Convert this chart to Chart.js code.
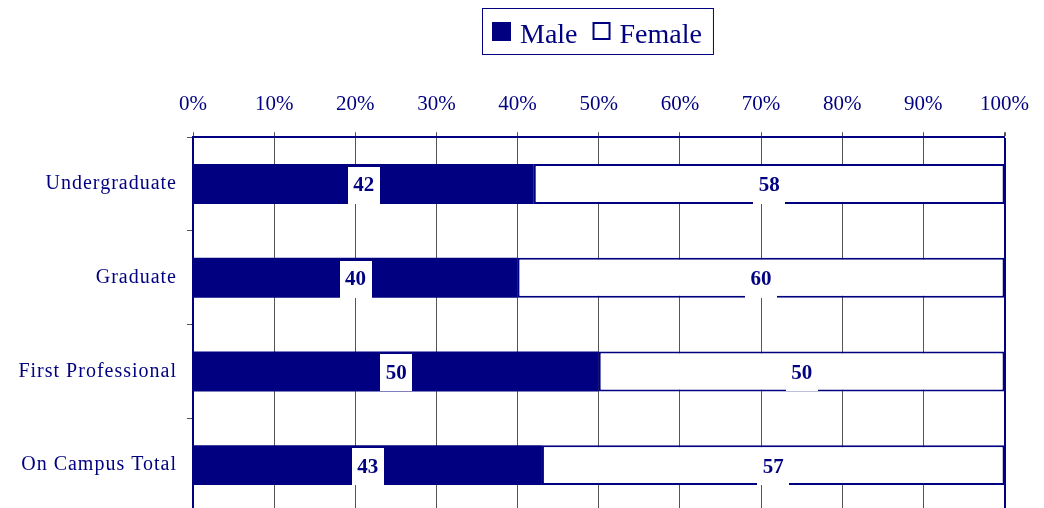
<!DOCTYPE html>
<html>
<head>
<meta charset="utf-8">
<script src="https://cdn.jsdelivr.net/npm/chart.js@4"></script>
<style>
  html, body { margin: 0; padding: 0; background: #fff; overflow: hidden; }
  #wrap { width: 1044px; height: 508px; overflow: hidden; }
</style>
</head>
<body>
<div id="wrap"><canvas id="chart" width="1044" height="520"></canvas></div>
<script>
// Enrollment split by level, percent
const categories = ['Undergraduate', 'Graduate', 'First Professional', 'On Campus Total'];
const maleValues = [42, 40, 50, 43];
const femaleValues = [58, 60, 50, 57];
const seriesNames = ['Male', 'Female'];
const xTicks = [0, 10, 20, 30, 40, 50, 60, 70, 80, 90, 100];

const NAVY = '#000080';
const SERIF = "'Liberation Serif', 'Times New Roman', serif";

// White boxes with the value in the middle of each segment
const valueLabels = {
  id: 'valueLabels',
  afterDatasetsDraw(chart) {
    const ctx = chart.ctx;
    ctx.save();
    ctx.font = 'bold 21px ' + SERIF;
    ctx.textAlign = 'center';
    ctx.textBaseline = 'middle';
    chart.data.datasets.forEach((ds, i) => {
      chart.getDatasetMeta(i).data.forEach((bar, j) => {
        const text = String(ds.data[j]);
        const cx = (bar.x + bar.base) / 2;
        const cy = bar.y + 1;
        const w = ctx.measureText(text).width + 11;
        ctx.fillStyle = '#fff';
        ctx.fillRect(Math.round(cx - w / 2), Math.round(cy - 18), Math.round(w), 37);
        ctx.fillStyle = NAVY;
        ctx.fillText(text, cx, cy + 1);
      });
    });
    ctx.restore();
  }
};

// Category labels in the original are slightly letter-spaced
const spacedYLabels = {
  id: 'spacedYLabels',
  beforeDraw(chart) {
    const scale = chart.scales.y;
    if (!scale || scale._spaced) return;
    const orig = scale.drawLabels.bind(scale);
    scale.drawLabels = function(area) {
      const ctx = chart.ctx;
      ctx.save();
      ctx.letterSpacing = '1px';
      orig(area);
      ctx.restore();
    };
    scale._spaced = true;
  }
};

// Boxed legend like the original
const boxedLegend = {
  id: 'boxedLegend',
  afterDraw(chart) {
    const ctx = chart.ctx;
    const area = chart.chartArea;
    ctx.save();
    ctx.font = '28px ' + SERIF;
    ctx.textBaseline = 'alphabetic';
    const w0 = ctx.measureText(seriesNames[0]).width;
    const w1 = ctx.measureText(seriesNames[1]).width;
    const total = 10 + 19 + 9 + w0 + 15 + 18 + 9 + w1 + 11;
    const left = Math.round((area.left + area.right) / 2 - total / 2) - 1;
    const top = 8, h = 46;
    ctx.strokeStyle = NAVY;
    ctx.lineWidth = 1;
    ctx.strokeRect(left + 0.5, top + 0.5, total, h);
    let x = left + 10;
    ctx.fillStyle = NAVY;
    ctx.fillRect(x, 22, 19, 19);
    x += 19 + 9;
    ctx.fillText(seriesNames[0], x, 43);
    x += w0 + 15;
    ctx.lineWidth = 2;
    ctx.strokeRect(x + 1, 23, 16, 16);
    x += 18 + 9;
    ctx.fillText(seriesNames[1], x, 43);
    ctx.restore();
  }
};

new Chart(document.getElementById('chart'), {
  type: 'bar',
  data: {
    labels: categories,
    datasets: [
      {
        label: seriesNames[0],
        data: maleValues,
        backgroundColor: NAVY,
        borderWidth: 0
      },
      {
        label: seriesNames[1],
        data: femaleValues,
        backgroundColor: '#ffffff',
        borderColor: NAVY,
        borderWidth: 2,
        borderSkipped: false
      }
    ]
  },
  options: {
    indexAxis: 'y',
    responsive: false,
    animation: false,
    layout: { padding: { top: 77, right: 38, bottom: 8, left: 0 } },
    datasets: {
      bar: { categoryPercentage: 1, barPercentage: 40 / 94 }
    },
    plugins: {
      legend: { display: false },
      tooltip: { enabled: false }
    },
    scales: {
      x: {
        position: 'top',
        stacked: true,
        min: 0,
        max: 100,
        afterBuildTicks(scale) {
          scale.ticks = xTicks.map(v => ({ value: v }));
        },
        ticks: {
          color: NAVY,
          padding: 15,
          font: { family: SERIF, size: 21 },
          callback: v => v + '%'
        },
        grid: {
          color: ctx => ctx.tick && ctx.tick.value === 100 ? NAVY : '#555',
          lineWidth: ctx => ctx.tick && ctx.tick.value === 100 ? 2 : 1,
          tickColor: '#555',
          tickLength: 5
        },
        border: { color: NAVY, width: 2 }
      },
      y: {
        stacked: true,
        afterFit(scale) {
          scale.width = 193;
          scale.paddingTop = 0;
          scale.paddingBottom = 0;
        },
        ticks: {
          color: NAVY,
          padding: 10,
          font: { family: SERIF, size: 20 }
        },
        grid: {
          offset: true,
          drawOnChartArea: false,
          color: '#555',
          tickLength: 6
        },
        border: { color: NAVY, width: 2 }
      }
    }
  },
  plugins: [valueLabels, spacedYLabels, boxedLegend]
});
</script>
</body>
</html>
